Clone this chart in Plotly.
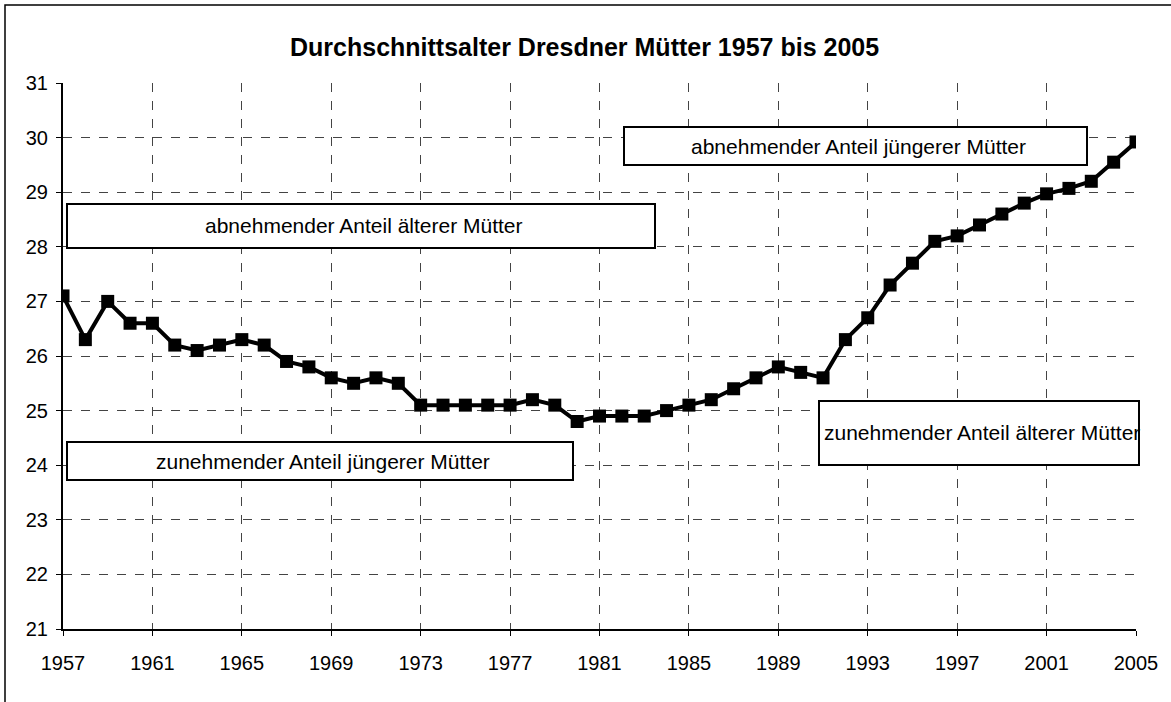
import plotly.graph_objects as go

years = list(range(1957, 2006))
age = [27.1, 26.3, 27.0, 26.6, 26.6, 26.2, 26.1, 26.2, 26.3, 26.2,
       25.9, 25.8, 25.6, 25.5, 25.6, 25.5, 25.1, 25.1, 25.1, 25.1,
       25.1, 25.2, 25.1, 24.8, 24.9, 24.9, 24.9, 25.0, 25.1, 25.2,
       25.4, 25.6, 25.8, 25.7, 25.6, 26.3, 26.7, 27.3, 27.7, 28.1,
       28.2, 28.4, 28.6, 28.8, 28.97, 29.07, 29.2, 29.55, 29.92]

title = "Durchschnittsalter Dresdner Mütter 1957 bis 2005"
box_texts = ["abnehmender Anteil jüngerer Mütter",
             "abnehmender Anteil älterer Mütter",
             "zunehmender Anteil jüngerer Mütter",
             "zunehmender Anteil älterer Mütter"]
# boxes in pixel coords (x0, x1, y0, y1)
box_px = [(624, 1087, 127, 165),
          (67, 655, 204, 248),
          (67, 573, 442, 480),
          (819, 1139, 401, 465)]

W, H = 1171, 702
L, R, T, B = 63, 1136, 83, 629

def px2paper_x(px):
    return (px - L) / (R - L)

def px2paper_y(py):
    return (B - py) / (B - T)

font = "Liberation Sans, Arial, sans-serif"

fig = go.Figure()
fig.add_trace(go.Scatter(
    x=years, y=age, mode="lines+markers",
    line=dict(color="black", width=4),
    marker=dict(symbol="square", size=13, color="black"),
    showlegend=False, hoverinfo="x+y"))

shapes = []
annotations = []
for txt, (x0, x1, y0, y1) in zip(box_texts, box_px):
    shapes.append(dict(type="rect", xref="paper", yref="paper",
                       x0=px2paper_x(x0), x1=px2paper_x(x1),
                       y0=px2paper_y(y1), y1=px2paper_y(y0),
                       line=dict(color="black", width=2), fillcolor="white",
                       layer="above"))
    annotations.append(dict(xref="paper", yref="paper",
                            x=px2paper_x((x0 + x1) / 2 + 3), y=px2paper_y((y0 + y1) / 2),
                            text=txt, showarrow=False,
                            font=dict(family=font, size=21, color="black"),
                            xanchor="center", yanchor="middle"))

# outer frame
shapes.append(dict(type="rect", xref="paper", yref="paper",
                   x0=px2paper_x(5), x1=px2paper_x(1185),
                   y0=px2paper_y(715), y1=px2paper_y(5),
                   line=dict(color="black", width=1.5), layer="below"))

annotations.append(dict(xref="paper", yref="paper",
                        x=px2paper_x(584), y=px2paper_y(47),
                        text="<b>" + title + "</b>", showarrow=False,
                        font=dict(family=font, size=25, color="black"),
                        xanchor="center", yanchor="middle"))

fig.update_layout(
    width=W, height=H,
    margin=dict(l=L, r=W - R, t=T, b=H - B),
    paper_bgcolor="white", plot_bgcolor="white",
    font=dict(family=font, size=20, color="black"),
    shapes=shapes, annotations=annotations,
    xaxis=dict(range=[1957, 2005], dtick=4, tick0=1957,
               showgrid=True, gridcolor="#444", griddash="dash", gridwidth=1,
               showline=True, linecolor="black", linewidth=2,
               ticks="outside", ticklen=5, tickcolor="black",
               zeroline=False, ticklabelstandoff=10),
    yaxis=dict(range=[21, 31], dtick=1,
               showgrid=True, gridcolor="#444", griddash="dash", gridwidth=1,
               showline=True, linecolor="black", linewidth=2,
               ticks="outside", ticklen=5, tickcolor="black",
               zeroline=False, ticklabelstandoff=4),
)

fig.write_html("out.html", config={"displayModeBar": False},
               post_script="document.body.style.margin='0';")
